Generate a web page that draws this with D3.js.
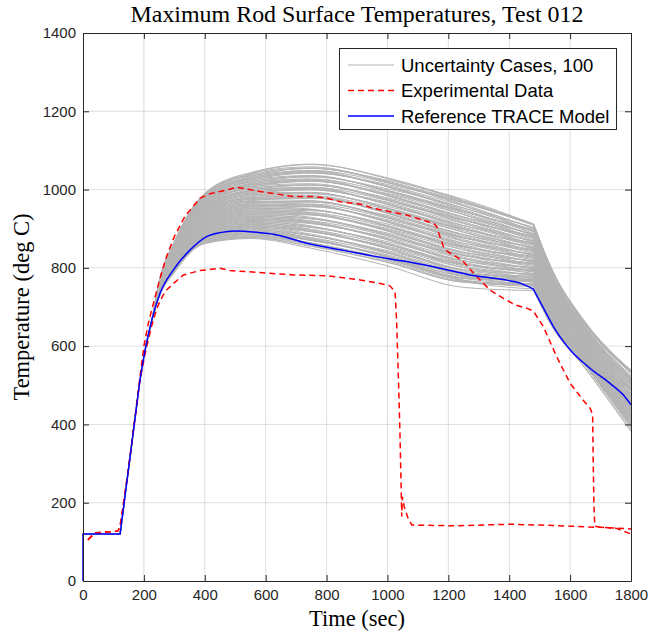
<!DOCTYPE html>
<html><head><meta charset="utf-8">
<script src="https://cdn.jsdelivr.net/npm/d3@7"></script>
<style>body{margin:0;background:#fff}</style>
</head><body>
<svg id="chart" width="649" height="637"></svg>
<script>
// ---------- data ----------
const titleText = "Maximum Rod Surface Temperatures, Test 012";
const xLabel = "Time (sec)";
const yLabel = "Temperature (deg C)";
const xTicks = [0, 200, 400, 600, 800, 1000, 1200, 1400, 1600, 1800];
const yTicks = [0, 200, 400, 600, 800, 1000, 1200, 1400];
const legendLabels = ["Uncertainty Cases, 100", "Experimental Data", "Reference TRACE Model"];

// shared initial heat-up of all uncertainty cases
const riseTime = [0, 122, 187, 204, 226];
const riseTemp = [120, 120, 513, 590, 665];
// sample times of each uncertainty case (1480 s = quench knee)
const caseTimes = [250, 300, 400, 550, 750, 1000, 1250, 1480, 1540, 1640, 1800];
const caseTemps = [
[725,788,862,875,850,805,750,742,650,553,385],
[725,789,863,877,855,814,764,759,663,566,405],
[726,790,865,878,856,815,763,755,661,563,400],
[726,790,866,880,860,822,773,767,670,572,414],
[727,791,867,882,863,824,775,769,672,574,415],
[727,792,869,884,862,818,765,756,661,563,399],
[727,793,870,885,864,821,768,757,663,564,400],
[728,794,871,887,870,833,786,779,680,581,426],
[728,794,872,889,870,830,780,771,674,574,415],
[729,795,874,890,871,830,778,767,671,571,411],
[729,796,875,892,872,828,773,759,665,565,400],
[729,797,876,894,877,837,787,776,678,578,420],
[730,798,878,895,874,827,769,752,659,559,391],
[730,798,879,897,882,844,795,784,685,584,429],
[731,799,880,899,876,827,766,746,654,553,382],
[731,800,882,901,883,841,788,773,676,574,414],
[731,801,883,902,883,839,782,764,669,567,403],
[732,802,884,904,892,855,808,796,695,593,441],
[732,802,885,906,886,839,779,758,664,562,394],
[733,803,887,907,893,853,801,784,686,583,426],
[733,804,888,909,893,850,795,776,679,576,415],
[733,805,889,911,898,859,809,793,692,589,435],
[734,806,891,912,895,850,792,769,674,570,406],
[734,806,892,914,903,867,818,801,699,595,444],
[735,807,893,916,898,849,788,763,669,565,397],
[735,808,895,918,905,863,810,790,690,586,429],
[735,809,896,919,905,862,805,781,684,579,418],
[736,810,897,921,913,878,831,813,709,604,456],
[736,810,898,923,907,861,801,775,679,573,409],
[737,811,900,924,914,875,823,801,700,594,441],
[737,812,901,926,915,873,818,793,694,588,430],
[737,813,902,928,920,882,832,810,707,601,450],
[738,814,904,929,917,872,814,786,688,582,421],
[738,814,905,931,925,889,840,818,714,607,459],
[739,815,906,933,919,872,811,780,683,576,412],
[739,816,908,935,926,886,833,807,705,597,444],
[739,817,909,936,926,884,827,798,698,590,433],
[740,818,910,938,935,900,853,830,724,616,471],
[740,818,911,940,929,884,824,792,693,585,424],
[741,819,913,941,936,898,846,818,715,606,456],
[741,820,914,943,936,895,840,810,708,599,445],
[741,821,915,945,941,904,854,827,721,612,465],
[742,822,917,946,938,895,837,803,703,593,436],
[742,822,918,948,946,912,863,835,728,618,474],
[743,823,919,950,941,894,833,797,698,588,427],
[743,824,921,952,948,908,855,824,719,609,459],
[743,825,922,953,948,907,850,815,713,602,448],
[744,826,923,955,956,923,876,847,738,627,486],
[744,826,924,957,950,906,846,809,708,596,439],
[745,827,926,958,957,920,868,835,729,617,471],
[745,828,927,960,958,918,863,827,723,611,460],
[745,829,928,962,963,927,877,844,736,624,480],
[746,830,930,963,960,917,859,820,717,605,451],
[746,830,931,965,968,934,885,852,743,630,489],
[747,831,932,967,962,917,856,814,712,599,442],
[747,832,934,969,969,931,878,841,734,620,474],
[747,833,935,970,969,929,872,832,727,613,463],
[748,834,936,972,978,945,898,864,753,639,501],
[748,834,937,974,972,929,869,826,722,608,454],
[749,835,939,975,979,943,891,852,744,629,486],
[749,836,940,977,979,940,885,844,737,622,475],
[749,837,941,979,984,949,899,861,750,635,495],
[750,838,943,980,981,940,882,837,732,616,466],
[750,838,944,982,989,957,908,869,757,641,504],
[751,839,945,984,984,939,878,831,727,611,457],
[751,840,947,986,991,953,900,858,748,632,489],
[751,841,948,987,991,952,895,849,742,625,478],
[752,842,949,989,999,968,921,881,767,650,516],
[752,842,950,991,993,951,891,843,737,619,469],
[753,843,952,992,1000,965,913,869,758,640,501],
[753,844,953,994,1001,963,908,861,752,634,490],
[753,845,954,996,1006,972,922,878,765,647,510],
[754,846,956,997,1003,962,904,854,746,628,481],
[754,846,957,999,1011,979,930,886,772,653,519],
[755,847,958,1001,1005,962,901,848,741,622,472],
[755,848,960,1003,1012,976,923,875,763,643,504],
[755,849,961,1004,1012,974,917,866,756,636,493],
[756,850,962,1006,1021,990,943,898,782,662,531],
[756,850,963,1008,1015,974,914,860,751,631,484],
[757,851,965,1009,1022,988,936,886,773,652,516],
[757,852,966,1011,1022,985,930,878,766,645,505],
[757,853,967,1013,1027,994,944,895,779,658,525],
[758,854,969,1014,1024,985,927,871,761,639,496],
[758,854,970,1016,1032,1002,953,903,786,664,534],
[759,855,971,1018,1027,984,923,865,756,634,487],
[759,856,973,1020,1034,998,945,892,777,655,519],
[759,857,974,1021,1034,997,940,883,771,648,508],
[760,858,975,1023,1042,1013,966,910,794,670,536],
[760,858,976,1025,1036,996,936,877,766,642,499],
[761,859,978,1026,1043,1010,958,903,787,663,531],
[761,860,979,1028,1044,1008,953,895,781,657,520],
[761,861,980,1030,1049,1017,967,910,792,668,538],
[762,862,982,1031,1046,1007,949,888,775,651,511],
[762,862,983,1033,1054,1024,975,912,795,668,535],
[763,863,984,1035,1048,1007,946,882,770,645,502],
[763,864,986,1037,1055,1021,968,909,792,666,534],
[763,865,987,1038,1055,1019,962,900,785,659,523],
[764,866,988,1040,1064,1030,972,912,797,672,538],
[764,866,989,1042,1058,1019,959,894,780,653,514],
[765,867,991,1043,1065,1028,970,911,796,668,539]
];

// reference TRACE model
const refTime = [0, 0, 122, 187, 204, 226, 253, 297, 352, 406, 450, 500, 581, 625, 735, 844, 954, 1063, 1173, 1271, 1380, 1436, 1479, 1512, 1545, 1600, 1666, 1731, 1775, 1800];
const refTemp = [0, 120, 120, 513, 590, 667, 735, 795, 846, 880, 890, 894, 890, 886, 863, 846, 830, 816, 799, 782, 770, 761, 746, 698, 650, 591, 543, 505, 475, 450];

// experimental data, thermocouple A (upper)
const expATime = [16, 39, 90, 115, 121, 126, 150, 187, 200, 215, 235, 250, 263, 275, 300, 335, 384, 420, 450, 505, 581, 625, 691, 760, 800, 844, 910, 954, 1063, 1107, 1151, 1162, 1170, 1184, 1200, 1217, 1249, 1293, 1337, 1381, 1420, 1457, 1479, 1512, 1556, 1600, 1643, 1666, 1674, 1676, 1678, 1681, 1700, 1750, 1800];
const expATemp = [105, 123, 126, 128, 138, 160, 290, 520, 600, 660, 720, 765, 800, 830, 880, 932, 978, 990, 995, 1006, 995, 990, 982, 982, 978, 969, 963, 952, 935, 924, 914, 905, 885, 854, 840, 833, 816, 778, 743, 722, 705, 697, 690, 650, 573, 505, 462, 441, 425, 300, 200, 140, 137, 135, 120];
// experimental data, thermocouple B (lower)
const expBTime = [16, 39, 90, 115, 121, 126, 150, 187, 205, 225, 242, 253, 270, 297, 330, 384, 450, 483, 581, 691, 800, 910, 976, 1008, 1025, 1030, 1036, 1041, 1045, 1047, 1049, 1055, 1068, 1080, 1227, 1400, 1500, 1600, 1700, 1800];
const expBTemp = [105, 123, 126, 128, 138, 160, 290, 513, 585, 650, 695, 715, 740, 760, 782, 793, 799, 793, 788, 782, 780, 769, 760, 754, 739, 667, 520, 380, 240, 165, 215, 190, 160, 143, 141, 145, 143, 140, 137, 133];

// ---------- drawing ----------
const svg = d3.select("#chart");
const L = 83, R = 631, T = 33, B = 581;
const x = d3.scaleLinear().domain([0, 1800]).range([L, R]);
const y = d3.scaleLinear().domain([0, 1400]).range([B, T]);
const axisColor = "#262626";
const sans = "'Liberation Sans', Arial, Helvetica, sans-serif";
const serif = "'Liberation Serif', 'Times New Roman', serif";

svg.append("rect").attr("width", 649).attr("height", 637).attr("fill", "#fff");

// grid
const grid = svg.append("g");
grid.selectAll(".gx").data(xTicks.slice(1, -1)).enter().append("line")
  .attr("x1", d => x(d)).attr("x2", d => x(d)).attr("y1", T).attr("y2", B)
  .attr("stroke", axisColor).attr("stroke-opacity", 0.15).attr("stroke-width", 1);
grid.selectAll(".gy").data(yTicks.slice(1, -1)).enter().append("line")
  .attr("y1", d => y(d)).attr("y2", d => y(d)).attr("x1", L).attr("x2", R)
  .attr("stroke", axisColor).attr("stroke-opacity", 0.15).attr("stroke-width", 1);

// clip
svg.append("clipPath").attr("id", "plotclip").append("rect")
  .attr("x", L - 2).attr("y", T - 1).attr("width", R - L + 3).attr("height", B - T + 3);
const plot = svg.append("g").attr("clip-path", "url(#plotclip)");

const lineLin = d3.line().x(d => x(d[0])).y(d => y(d[1]));
const lineMono = d3.line().x(d => x(d[0])).y(d => y(d[1])).curve(d3.curveMonotoneX);
function joinPaths(parts) {
  return parts.map((p, i) => i === 0 ? p : p.replace(/^M/, "L")).join("");
}

// uncertainty cases
const kneeIdx = caseTimes.indexOf(1480);
const risePts = riseTime.map((t, i) => [t, riseTemp[i]]);
caseTemps.forEach(row => {
  const pts = caseTimes.map((t, i) => [t, row[i]]);
  const seg1 = risePts.slice(0, 3);
  const seg2 = risePts.slice(2).concat(pts.slice(0, kneeIdx + 1));
  const seg3 = pts.slice(kneeIdx);
  plot.append("path")
    .attr("d", joinPaths([lineLin(seg1), lineMono(seg2), lineMono(seg3)]))
    .attr("fill", "none").attr("stroke", "#b3b3b3").attr("stroke-width", 1);
});

// experimental data
[[expATime, expATemp], [expBTime, expBTemp]].forEach(([tt, vv]) => {
  plot.append("path")
    .attr("d", lineLin(tt.map((t, i) => [t, vv[i]])))
    .attr("fill", "none").attr("stroke", "#ff0000").attr("stroke-width", 1.5)
    .attr("stroke-dasharray", "6,4");
});

// reference model
{
  const pts = refTime.map((t, i) => [t, refTemp[i]]);
  const k = refTime.indexOf(1479);
  const d = joinPaths([lineLin(pts.slice(0, 4)), lineMono(pts.slice(3, k + 1)), lineMono(pts.slice(k))]);
  plot.append("path").attr("d", d).attr("fill", "none")
    .attr("stroke", "#0000ff").attr("stroke-width", 1.5);
}

// axes
function styleAxis(g) {
  g.selectAll("path,line").attr("stroke", axisColor).attr("stroke-width", 1);
  g.selectAll("text").attr("fill", axisColor).attr("font-family", sans).attr("font-size", "15px");
}
svg.append("g").attr("transform", `translate(0,${B})`)
  .call(d3.axisBottom(x).tickValues(xTicks).tickSize(-6).tickSizeOuter(0).tickPadding(8).tickFormat(d3.format("d")))
  .call(styleAxis);
svg.append("g").attr("transform", `translate(0,${T})`)
  .call(d3.axisTop(x).tickValues(xTicks).tickSize(-6).tickSizeOuter(0).tickFormat(""))
  .call(styleAxis);
svg.append("g").attr("transform", `translate(${L},0)`)
  .call(d3.axisLeft(y).tickValues(yTicks).tickSize(-6).tickSizeOuter(0).tickPadding(7).tickFormat(d3.format("d")))
  .call(styleAxis);
svg.append("g").attr("transform", `translate(${R},0)`)
  .call(d3.axisRight(y).tickValues(yTicks).tickSize(-6).tickSizeOuter(0).tickFormat(""))
  .call(styleAxis);
svg.selectAll(".domain").attr("fill", "none");

// title and labels
svg.append("text").attr("x", (L + R) / 2 + 0).attr("y", 22).attr("text-anchor", "middle")
  .attr("font-family", serif).attr("font-size", "22.5px").attr("fill", "#000")
  .attr("textLength", 453).attr("lengthAdjust", "spacingAndGlyphs").text(titleText);
svg.append("text").attr("x", (L + R) / 2).attr("y", 626).attr("text-anchor", "middle")
  .attr("font-family", serif).attr("font-size", "22.5px").attr("fill", "#000").text(xLabel);
svg.append("text").attr("transform", `translate(29,${(T + B) / 2}) rotate(-90)`).attr("text-anchor", "middle")
  .attr("font-family", serif).attr("font-size", "22.5px").attr("fill", "#000").text(yLabel);

// legend
const lg = svg.append("g");
lg.append("rect").attr("x", 339.5).attr("y", 48.5).attr("width", 277).attr("height", 81)
  .attr("fill", "#fff").attr("stroke", axisColor).attr("stroke-width", 1);
const legendStyles = [
  {stroke: "#b3b3b3", width: 1.2, dash: null},
  {stroke: "#ff0000", width: 1.5, dash: "6,4"},
  {stroke: "#0000ff", width: 1.5, dash: null}
];
const rowY = [65, 90.5, 116];
legendLabels.forEach((lab, i) => {
  const s = legendStyles[i];
  const ln = lg.append("line").attr("x1", 348).attr("x2", 394).attr("y1", rowY[i]).attr("y2", rowY[i])
    .attr("stroke", s.stroke).attr("stroke-width", s.width);
  if (s.dash) ln.attr("stroke-dasharray", s.dash);
  lg.append("text").attr("x", 401).attr("y", rowY[i] + 6.6)
    .attr("font-family", sans).attr("font-size", "18.5px").attr("fill", "#000").text(lab);
});
</script>
</body></html>
